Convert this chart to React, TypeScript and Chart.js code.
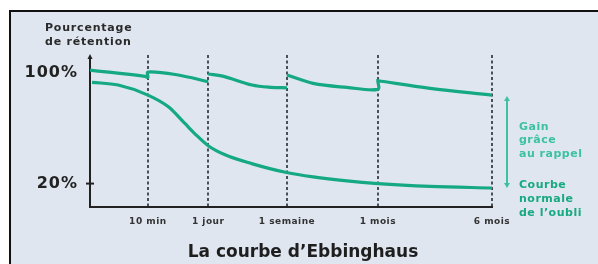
import React, { useEffect, useRef } from "react";
import { Chart, registerables } from "chart.js";

Chart.register(...registerables);

// X positions are in percent of the time axis (0 = start, 100 = 6 mois)
const tickLabels = ["10 min", "1 jour", "1 semaine", "1 mois", "6 mois"];
const tickPositions = [14.4, 29.4, 49, 71.6, 100];

const yTickValues = [20, 100];
const yTickLabels = ["20%", "100%"];

// Normal forgetting curve
const forgetX = [0.5, 7, 14.4, 19.5, 23.6, 26.1, 29.4, 33.6, 40.2, 48.9, 55.5, 63.9, 71.6, 84.6, 100];
const forgetY = [93.5, 91.5, 84.2, 75.7, 63.6, 56.1, 47.5, 40.9, 34.5, 28.0, 24.8, 21.9, 20.0, 18.0, 16.8];

// Curve with recall (null = break between review sessions)
const recallX = [0, 13.7, 14.4, 14.4, 21.9, 29.4, 29.4, 29.4, 33, 40.3, 45, 49, 49, 49, 55.5, 63.9, 71.6, 71.6, 71.6, 84.6, 100];
const recallY = [102.4, 97.8, 97.0, 100.9, 98.8, 93.9, null, 99.5, 98.0, 91.5, 89.8, 89.5, null, 98.8, 92.7, 89.8, 88.4, 94.6, 94.6, 89.1, 84.2];

const yTitle = ["Pourcentage", "de rétention"];
const chartTitle = "La courbe d’Ebbinghaus";
const gainLabel = ["Gain", "grâce", "au rappel"];
const normalLabel = ["Courbe", "normale", "de l’oubli"];

const LINE = "#14a883";
const LIGHT_GREEN = "#3cc29e";
const DARK = "#222222";

export default function App() {
  const ref = useRef<HTMLCanvasElement | null>(null);

  useEffect(() => {
    const canvas = ref.current;
    if (!canvas) return;

    const recallData = recallX.map((x, i) => ({ x, y: recallY[i] }));
    const forgetData = forgetX.map((x, i) => ({ x, y: forgetY[i] }));

    const decor = {
      id: "decor",
      beforeDraw(chart: any) {
        const ctx = chart.ctx;
        ctx.save();
        ctx.fillStyle = "#ffffff";
        ctx.fillRect(0, 0, chart.width, chart.height);
        ctx.fillStyle = "#dfe6f0";
        ctx.fillRect(10, 11, chart.width, chart.height);
        ctx.strokeStyle = "#111111";
        ctx.lineWidth = 2;
        ctx.beginPath();
        ctx.moveTo(10, chart.height + 2);
        ctx.lineTo(10, 11);
        ctx.lineTo(chart.width + 2, 11);
        ctx.stroke();
        ctx.restore();
      },
      beforeDatasetsDraw(chart: any) {
        const ctx = chart.ctx;
        const xs = chart.scales.x;
        const ys = chart.scales.y;
        const { top, bottom, left } = chart.chartArea;
        ctx.save();
        // dashed verticals
        ctx.strokeStyle = "#4a4f56";
        ctx.lineWidth = 2;
        ctx.setLineDash([3, 2.5]);
        tickPositions.forEach((v) => {
          const px = Math.round(xs.getPixelForValue(v));
          ctx.beginPath();
          ctx.moveTo(px, top);
          ctx.lineTo(px, bottom);
          ctx.stroke();
        });
        ctx.setLineDash([]);
        // axes
        ctx.strokeStyle = DARK;
        ctx.lineWidth = 2;
        ctx.beginPath();
        ctx.moveTo(left, top + 2);
        ctx.lineTo(left, bottom);
        ctx.lineTo(xs.getPixelForValue(100) + 1, bottom);
        ctx.stroke();
        ctx.fillStyle = DARK;
        ctx.beginPath();
        ctx.moveTo(left, top - 1);
        ctx.lineTo(left - 2.5, top + 4);
        ctx.lineTo(left + 2.5, top + 4);
        ctx.closePath();
        ctx.fill();
        // y tick at 20%
        ctx.beginPath();
        const py20 = ys.getPixelForValue(20);
        ctx.moveTo(left - 4, py20);
        ctx.lineTo(left + 4, py20);
        ctx.stroke();
        ctx.restore();
      },
      afterDraw(chart: any) {
        const ctx = chart.ctx;
        const xs = chart.scales.x;
        const ys = chart.scales.y;
        const { bottom } = chart.chartArea;
        ctx.save();
        ctx.textBaseline = "middle";
        // y labels
        ctx.fillStyle = DARK;
        ctx.font = "bold 16px 'DejaVu Sans'";
        (ctx as any).letterSpacing = "1px";
        ctx.textAlign = "right";
        yTickValues.forEach((v, i) => {
          ctx.fillText(yTickLabels[i], 78, ys.getPixelForValue(v));
        });
        // y title
        ctx.font = "bold 11px 'DejaVu Sans'";
        (ctx as any).letterSpacing = "0.8px";
        ctx.textAlign = "left";
        ctx.fillStyle = "#2a2a2a";
        ctx.fillText(yTitle[0], 45, 28);
        ctx.fillText(yTitle[1], 45, 42);
        // x tick labels
        ctx.font = "bold 9px 'DejaVu Sans'";
        (ctx as any).letterSpacing = "0.5px";
        ctx.textAlign = "center";
        ctx.fillStyle = "#333333";
        tickPositions.forEach((v, i) => {
          ctx.fillText(tickLabels[i], xs.getPixelForValue(v), bottom + 15);
        });
        // title
        ctx.font = "bold 17px 'DejaVu Sans'";
        (ctx as any).letterSpacing = "0px";
        ctx.fillStyle = "#1e1e1e";
        ctx.fillText(chartTitle, 303, 253);
        // right annotation arrow
        const ax = 507;
        const aTop = 97;
        const aBot = 187;
        ctx.strokeStyle = LIGHT_GREEN;
        ctx.fillStyle = LIGHT_GREEN;
        ctx.lineWidth = 2;
        ctx.beginPath();
        ctx.moveTo(ax, aTop + 3);
        ctx.lineTo(ax, aBot - 3);
        ctx.stroke();
        ctx.beginPath();
        ctx.moveTo(ax, aTop - 1);
        ctx.lineTo(ax - 3, aTop + 4);
        ctx.lineTo(ax + 3, aTop + 4);
        ctx.closePath();
        ctx.fill();
        ctx.beginPath();
        ctx.moveTo(ax, aBot + 1);
        ctx.lineTo(ax - 3, aBot - 4);
        ctx.lineTo(ax + 3, aBot - 4);
        ctx.closePath();
        ctx.fill();
        // annotation texts
        ctx.font = "bold 11px 'DejaVu Sans'";
        (ctx as any).letterSpacing = "0.5px";
        ctx.textAlign = "left";
        ctx.fillStyle = LIGHT_GREEN;
        gainLabel.forEach((t, i) => ctx.fillText(t, 519, 127 + i * 13.5));
        ctx.fillStyle = "#17a97f";
        normalLabel.forEach((t, i) => ctx.fillText(t, 519, 185 + i * 14));
        ctx.restore();
      },
    };

    const chart = new Chart(canvas, {
      type: "line",
      data: {
        datasets: [
          {
            data: recallData as any,
            borderColor: LINE,
            borderWidth: 3.2,
            pointRadius: 0,
            fill: false,
            tension: 0.35,
            spanGaps: false,
          },
          {
            data: forgetData as any,
            borderColor: LINE,
            borderWidth: 3.2,
            pointRadius: 0,
            fill: false,
            cubicInterpolationMode: "monotone",
          },
        ],
      },
      options: {
        animation: false,
        responsive: false,
        maintainAspectRatio: false,
        events: [],
        layout: { padding: { left: 90, right: 106, top: 55, bottom: 57 } },
        scales: {
          x: { type: "linear", min: 0, max: 100, display: false },
          y: { type: "linear", min: 3, max: 113.3, display: false },
        },
        plugins: {
          legend: { display: false },
          title: { display: false },
          tooltip: { enabled: false },
        },
      },
      plugins: [decor],
    });

    return () => chart.destroy();
  }, []);

  return (
    <div style={{ position: "fixed", left: 0, top: 0, width: 598, height: 264 }}>
      <canvas ref={ref} width={598} height={264} style={{ width: 598, height: 264, display: "block" }} />
    </div>
  );
}
